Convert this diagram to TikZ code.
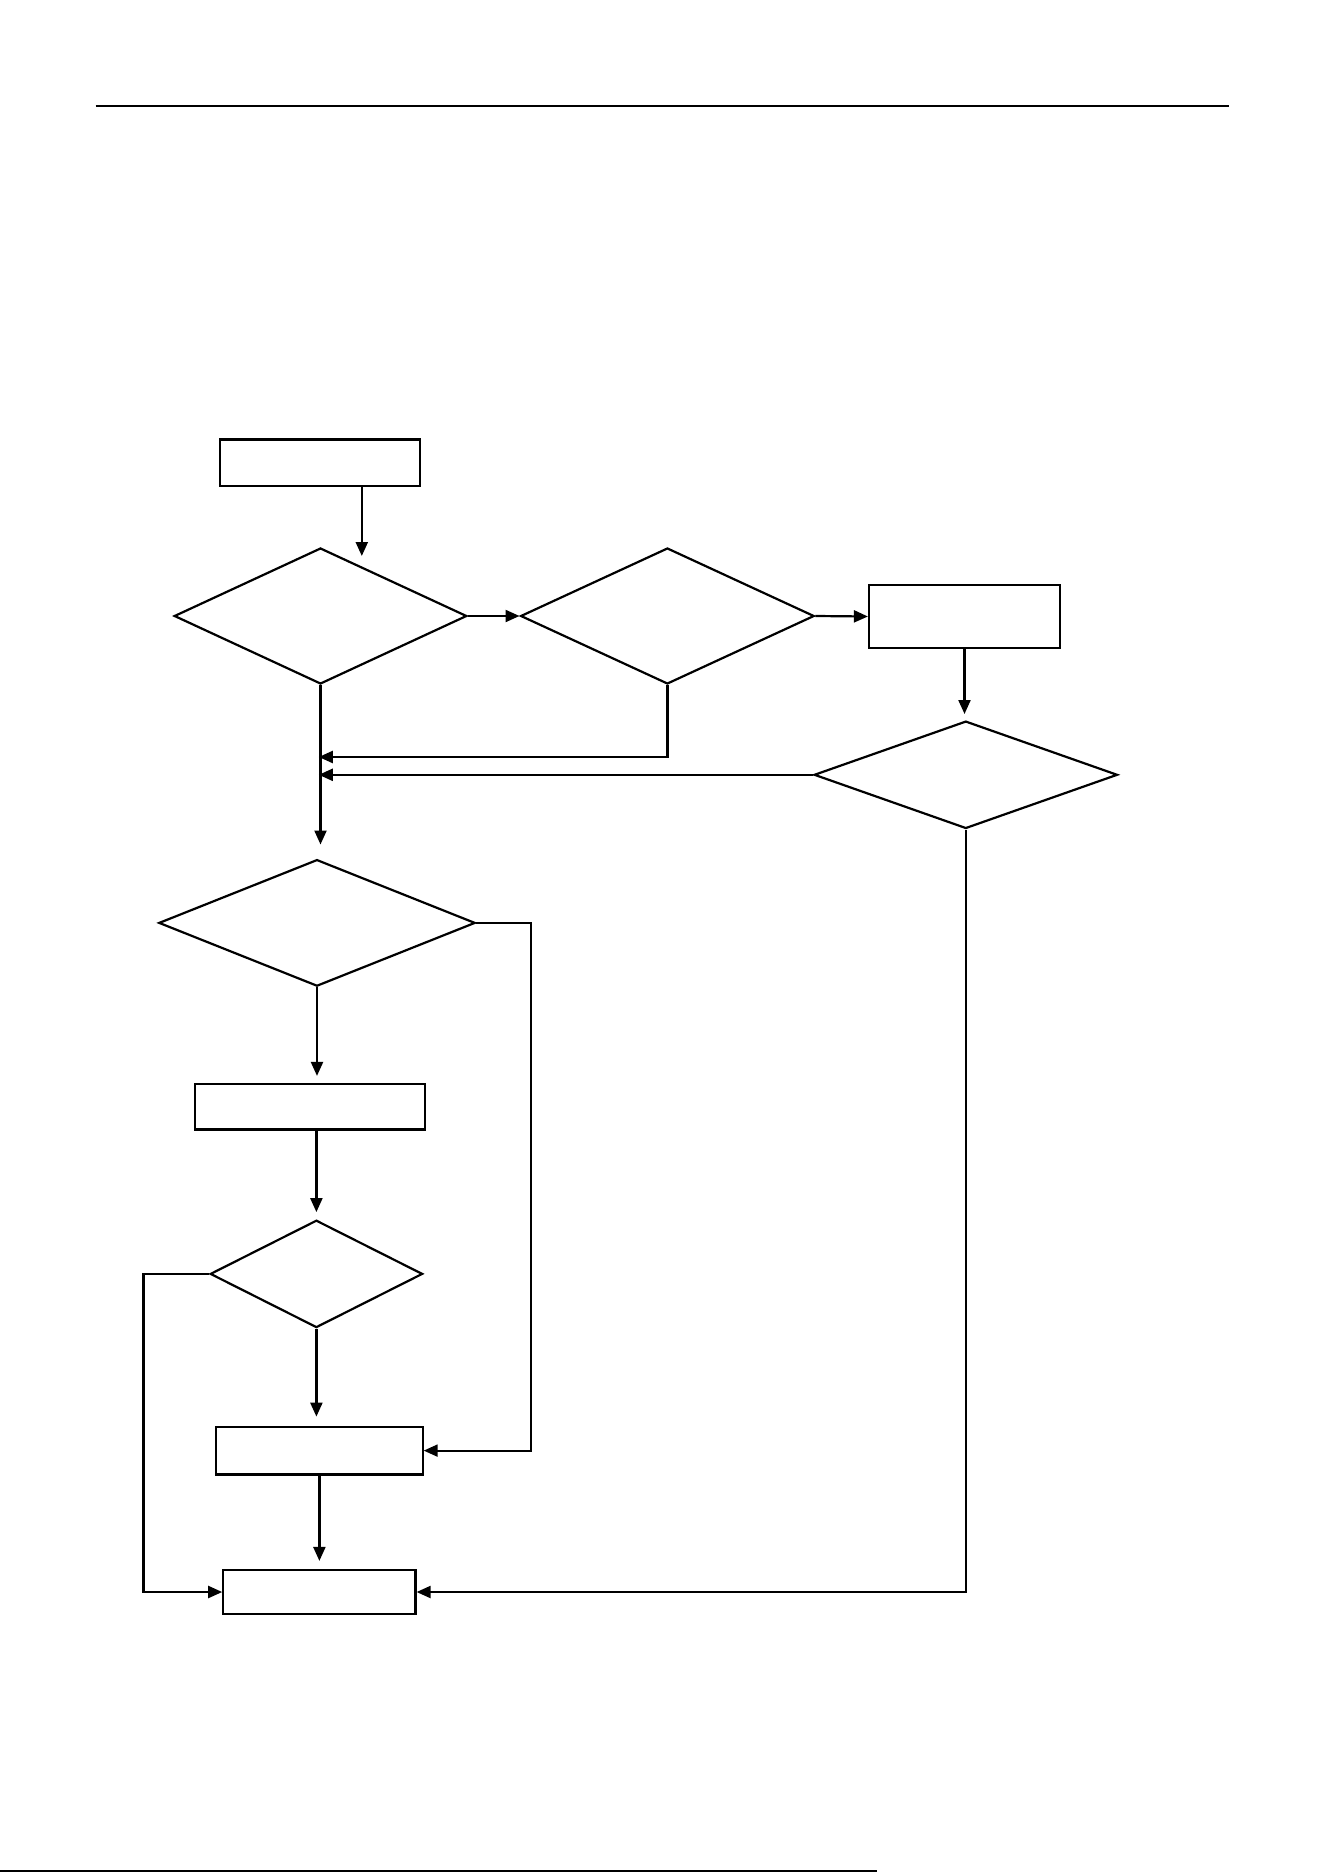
\documentclass[tikz,border=0pt]{standalone}
\usepackage{tikz}
\usetikzlibrary{shapes.geometric, arrows.meta}

\begin{document}
\begin{tikzpicture}[x=0.5pt, y=-0.5pt, line width=1.1pt,
  stepbox/.style={draw, rectangle, inner sep=0pt},
  choice/.style={draw, diamond, inner sep=0pt},
  flow/.style={-{Triangle[length=7pt, width=6pt]}}]
  \useasboundingbox (0,0) rectangle (1324,1872);
  %--- page rules ---
  \draw[line width=1.3pt] (95.5,106) -- (1228.5,106);
  \draw[line width=0.7pt] (0,1871) -- (877,1871);
  %--- boxes ---
  \node[stepbox, minimum width=100.3pt, minimum height=23.3pt] (start) at (320,462.7) {};
  \node[stepbox, minimum width=95.5pt, minimum height=31.5pt]  (act1)  at (964.5,616.5) {};
  \node[stepbox, minimum width=115.2pt, minimum height=22.7pt] (act2)  at (309.8,1106.7) {};
  \node[stepbox, minimum width=103.2pt, minimum height=23.9pt] (act3)  at (319.4,1450.6) {};
  \node[stepbox, minimum width=96.1pt, minimum height=22pt]    (stop)  at (319.4,1592) {};
  %--- decisions ---
  \node[choice, minimum width=146.3pt, minimum height=68pt]  (ask1) at (320.5,616) {};
  \node[choice, minimum width=146.8pt, minimum height=68pt]  (ask2) at (667.4,616) {};
  \node[choice, minimum width=151.7pt, minimum height=53.7pt] (ask3) at (965.8,774.8) {};
  \node[choice, minimum width=158.2pt, minimum height=63.3pt] (ask4) at (317,922.9) {};
  \node[choice, minimum width=106.2pt, minimum height=53.7pt] (ask5) at (316.4,1273.9) {};
  %--- connectors ---
  \coordinate (in1) at (361.8,556);
  \draw[flow] (start.south -| in1) -- (in1);
  \draw[flow] (ask1.east) -- (ask2.west);
  \draw[flow] (ask2.east) -- (act1.west);
  \draw[flow, shorten >=3pt] (act1.south) -- (act1.south |- ask3.north);
  \draw[flow, shorten >=7pt] (ask1.south) -- (ask1.south |- ask4.north);
  % merges into the trunk
  \coordinate (j1) at (318.8,757);
  \draw[flow] (ask2.south) |- (j1);
  \draw[flow] (ask3.west) -- (ask3.west -| j1);
  % lower part
  \draw[flow, shorten >=3.5pt] (ask4.south) -- (ask4.south |- act2.north);
  \draw[flow] (ask4.east) -- ++(55,0) |- (act3.east);
  \draw[flow, shorten >=3.5pt] (act2.south -| ask5.north) -- (ask5.north);
  \draw[flow, shorten >=4.5pt] (ask5.south) -- (ask5.south |- act3.north);
  \draw[flow] (ask5.west) -- ++(-65.6,0) |- (stop.west);
  \draw[flow, shorten >=4pt] (act3.south) -- (act3.south |- stop.north);
  \draw[flow] (ask3.south) |- (stop.east);
\end{tikzpicture}
\end{document}
